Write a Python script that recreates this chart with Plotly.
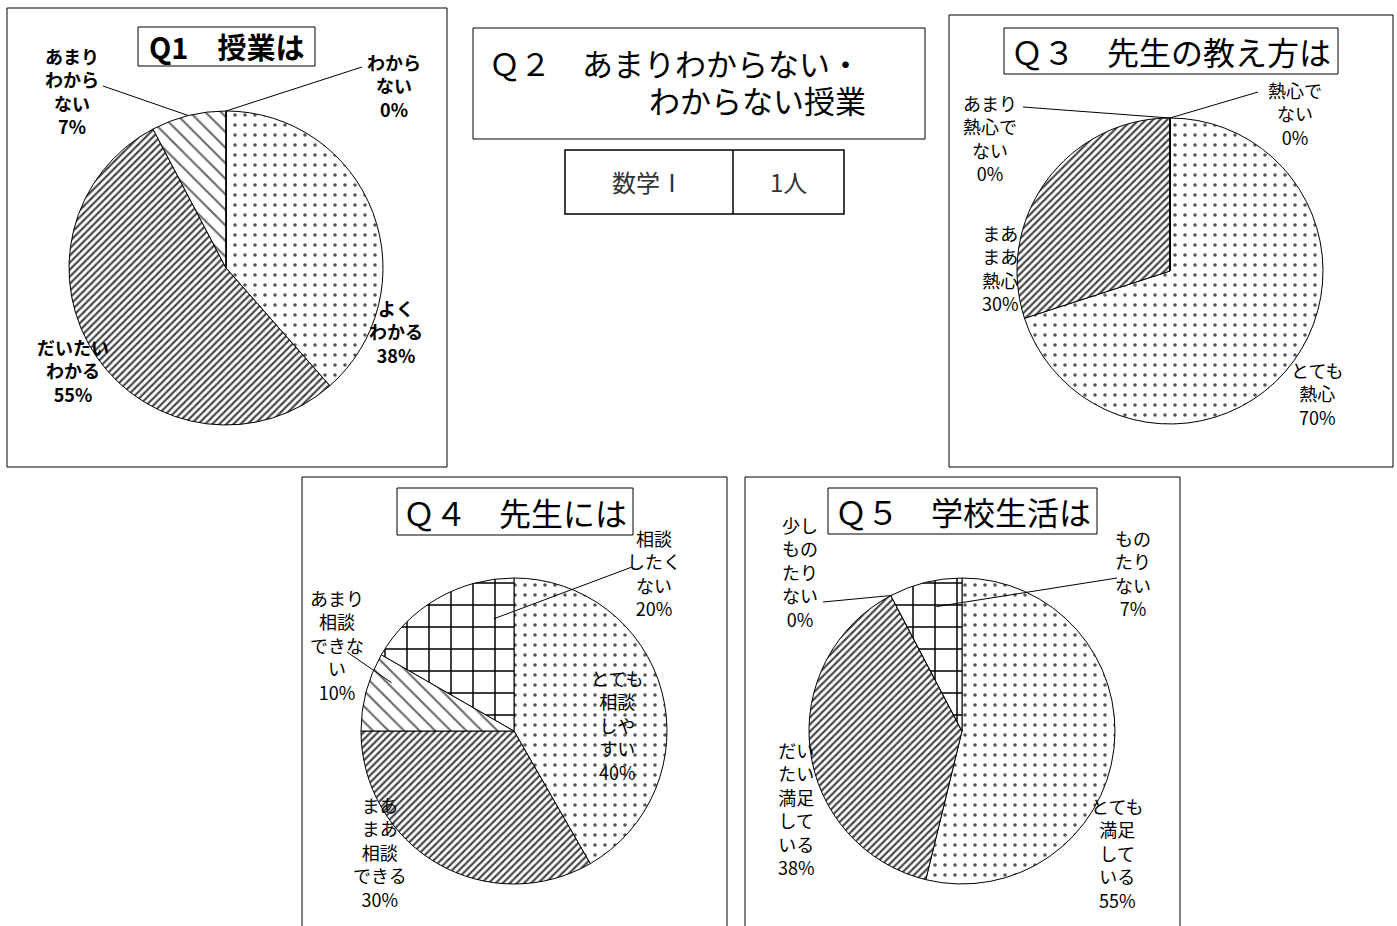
import math
import plotly.graph_objects as go

W, H = 1397, 926
FONT = "Noto Sans CJK JP"

# ---------------- data ----------------
# slice shares; printed labels kept separately
q1_labels = ["よくわかる", "だいたいわかる", "あまりわからない", "わからない"]
q1_values = [38.5, 53.8, 7.7, 0.0]
q1_text = ["よく<br>わかる<br>38%", "だいたい<br>わかる<br>55%", "あまり<br>わから<br>ない<br>7%", "わから<br>ない<br>0%"]

q3_labels = ["とても熱心", "まあまあ熱心", "あまり熱心でない", "熱心でない"]
q3_values = [70.0, 30.0, 0.0, 0.0]
q3_text = ["とても<br>熱心<br>70%", "まあ<br>まあ<br>熱心<br>30%", "あまり<br>熱心で<br>ない<br>0%", "熱心で<br>ない<br>0%"]

q4_labels = ["とても相談しやすい", "まあまあ相談できる", "あまり相談できない", "相談したくない"]
q4_values = [41.7, 33.3, 8.3, 16.7]
q4_text = ["とても<br>相談<br>しや<br>すい<br>40%", "まあ<br>まあ<br>相談<br>できる<br>30%",
           "あまり<br>相談<br>できな<br>い<br>10%", "相談<br>したく<br>ない<br>20%"]

q5_labels = ["とても満足している", "だいたい満足している", "少しものたりない", "ものたりない"]
q5_values = [53.8, 38.5, 0.0, 7.7]
q5_text = ["とても<br>満足<br>して<br>いる<br>55%", "だい<br>たい<br>満足<br>して<br>いる<br>38%",
           "少し<br>もの<br>たり<br>ない<br>0%", "もの<br>たり<br>ない<br>7%"]

q2_title_1 = "Ｑ２　あまりわからない・"
q2_title_2 = "わからない授業"
q2_subject = "数学Ⅰ"
q2_count = "1人"

# ---------------- styles ----------------
PAT = {
    "dots": dict(shape=".", size=10, solidity=0.1, fg="#555555"),
    "diag": dict(shape="/", size=5, solidity=0.42, fg="#444444"),
    "dash": dict(shape="\\", size=11, solidity=0.18, fg="#666666"),
    "grid": dict(shape="+", size=22, solidity=0.13, fg="#000000"),
}

panels = [
    dict(title="Q1　授業は", bold=True, labels=q1_labels, values=q1_values, text=q1_text,
         pats=["dots", "diag", "dash", "dash"],
         box=(7, 8, 447, 467), tbox=(138, 27, 315, 66), tsize=29,
         cx=226, cy=268, r=157,
         lab_pos=[(396, 331), (73, 370), (72, 91), (394, 86)], lab_bold=True,
         leaders=[None, None, ((103, 86), 0.5, 1.0), ((362, 67), 1.0, 1.0)]),
    dict(title="Ｑ３　先生の教え方は", bold=False, labels=q3_labels, values=q3_values, text=q3_text,
         pats=["dots", "diag", "dash", "grid"],
         box=(949, 15, 1393, 467), tbox=(1004, 28, 1338, 74), tsize=32,
         cx=1170, cy=271, r=153,
         lab_pos=[(1317, 394), (1000, 268), (990, 138), (1295, 113)], lab_bold=False,
         leaders=[None, None, ((1023, 107), 1.0, 1.0), ((1258, 92), 1.0, 1.0)]),
    dict(title="Ｑ４　先生には", bold=False, labels=q4_labels, values=q4_values, text=q4_text,
         pats=["dots", "diag", "dash", "grid"],
         box=(302, 477, 727, 940), tbox=(397, 488, 633, 535), tsize=32,
         cx=514, cy=731, r=153,
         lab_pos=[(617, 725), (380, 852), (337, 645), (654, 573)], lab_bold=False,
         leaders=[None, None, ((347, 652), 0.72, 0.86), ((632, 567), 0.83, 0.745)]),
    dict(title="Ｑ５　学校生活は", bold=False, labels=q5_labels, values=q5_values, text=q5_text,
         pats=["dots", "diag", "dash", "grid"],
         box=(745, 477, 1180, 940), tbox=(828, 488, 1097, 534), tsize=32,
         cx=962, cy=731, r=153,
         lab_pos=[(1117, 853), (796, 808), (800, 572), (1133, 573)], lab_bold=False,
         leaders=[None, None, ((823, 602), 0.0, 1.0), ((1117, 578), 0.58, 0.83)]),
]


def px(x):
    return x / W


def py(y):
    return 1 - y / H


def slice_point(p, idx, along, rfrac):
    vals = p["values"]
    tot = sum(vals)
    frac = (sum(vals[:idx]) + along * vals[idx]) / tot
    th = 2 * math.pi * frac
    return p["cx"] + rfrac * p["r"] * math.sin(th), p["cy"] - rfrac * p["r"] * math.cos(th)


def ann(x, y, text, size, color="black", xanchor="center", align="center"):
    return dict(xref="paper", yref="paper", x=px(x), y=py(y), text=text, showarrow=False,
                xanchor=xanchor, yanchor="middle", align=align,
                font=dict(family=FONT, size=size, color=color))


fig = go.Figure()
shapes = []
annotations = []

for p in panels:
    cx, cy, r = p["cx"], p["cy"], p["r"]
    pats = [PAT[k] for k in p["pats"]]
    fig.add_trace(go.Pie(
        labels=p["labels"], values=p["values"], sort=False, direction="clockwise", rotation=0,
        textinfo="none", hoverinfo="label+percent", showlegend=False,
        domain=dict(x=[px(cx - r), px(cx + r)], y=[py(cy + r), py(cy - r)]),
        marker=dict(colors=["white"] * 4, line=dict(color="black", width=1),
                    pattern=dict(shape=[q["shape"] for q in pats], size=[q["size"] for q in pats],
                                 solidity=[q["solidity"] for q in pats],
                                 fgcolor=[q["fg"] for q in pats], bgcolor="white",
                                 fillmode="replace")),
    ))
    x0, y0, x1, y1 = p["box"]
    shapes.append(dict(type="rect", xref="paper", yref="paper", x0=px(x0), x1=px(x1), y0=py(y1), y1=py(y0),
                       line=dict(color="black", width=1), layer="below"))
    tx0, ty0, tx1, ty1 = p["tbox"]
    shapes.append(dict(type="rect", xref="paper", yref="paper", x0=px(tx0), x1=px(tx1), y0=py(ty1), y1=py(ty0),
                       line=dict(color="black", width=1), fillcolor="white"))
    ttxt = f"<b>{p['title']}</b>" if p["bold"] else p["title"]
    annotations.append(ann((tx0 + tx1) / 2, (ty0 + ty1) / 2, ttxt, p["tsize"]))
    for i, t in enumerate(p["text"]):
        lx, ly = p["lab_pos"][i]
        tt = f"<b>{t}</b>" if p["lab_bold"] else t
        annotations.append(ann(lx, ly, tt, 18))
        ld = p["leaders"][i]
        if ld is not None:
            (ax, ay), along, rf = ld
            sx, sy = slice_point(p, i, along, rf)
            shapes.append(dict(type="line", xref="paper", yref="paper", x0=px(ax), y0=py(ay),
                               x1=px(sx), y1=py(sy), line=dict(color="black", width=1)))

# Q2 box and table
shapes.append(dict(type="rect", xref="paper", yref="paper", x0=px(473), x1=px(925), y0=py(139), y1=py(28),
                   line=dict(color="black", width=1)))
shapes.append(dict(type="rect", xref="paper", yref="paper", x0=px(565), x1=px(844), y0=py(214), y1=py(150),
                   line=dict(color="black", width=1.5)))
shapes.append(dict(type="line", xref="paper", yref="paper", x0=px(733), x1=px(733), y0=py(214), y1=py(150),
                   line=dict(color="black", width=1.5)))
annotations.append(ann(487, 62, q2_title_1, 31, xanchor="left", align="left"))
annotations.append(ann(647, 99, q2_title_2, 31, xanchor="left", align="left"))
annotations.append(ann(648, 182, q2_subject, 24, color="#333333"))
annotations.append(ann(788, 182, q2_count, 24, color="#333333"))

fig.update_layout(width=W, height=H, margin=dict(l=0, r=0, t=0, b=0), paper_bgcolor="white",
                  plot_bgcolor="white", shapes=shapes, annotations=annotations, showlegend=False)
fig.write_html("out.html", config={"displayModeBar": False},
               post_script="document.body.style.margin='0';document.body.style.overflow='hidden';")
